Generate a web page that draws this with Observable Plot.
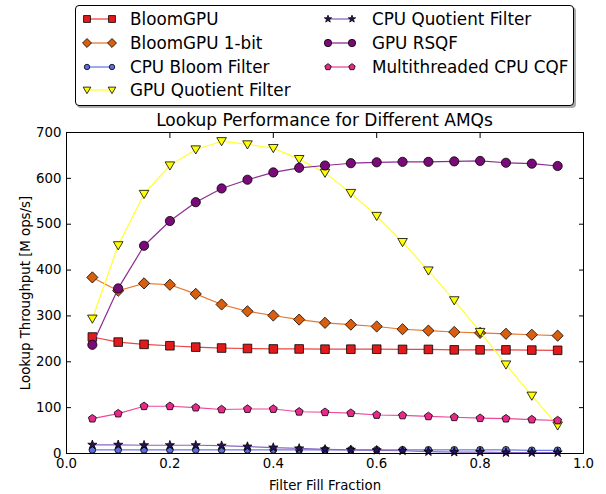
<!DOCTYPE html>
<html><head><meta charset="utf-8">
<script src="https://cdn.jsdelivr.net/npm/d3@7"></script>
<script src="https://cdn.jsdelivr.net/npm/@observablehq/plot@0.6"></script>
<style>
body{margin:0;background:#fff;}
#wrap{position:relative;width:606px;height:494px;font-family:"DejaVu Sans",sans-serif;overflow:hidden;}
#chart{position:absolute;left:0;top:0;}
#title{position:absolute;left:66px;width:517px;top:111px;text-align:center;font-size:17px;line-height:19px;color:#000;}
#legend{position:absolute;left:75px;top:5px;width:497px;height:99px;border:1px solid #000;border-radius:4px;box-shadow:2px 2px 0 #aaa;background:#fff;}
.item{position:absolute;font-size:16.8px;display:flex;align-items:center;height:20px;line-height:20px;color:#000;white-space:nowrap;}
.item svg{flex:none;}
</style></head>
<body>
<div id="wrap">
  <div id="chart"></div>
  <div id="title">Lookup Performance for Different AMQs</div>
  <div id="legend"></div>
</div>
<script>
const fillFraction = [0.05,0.10,0.15,0.20,0.25,0.30,0.35,0.40,0.45,0.50,0.55,0.60,0.65,0.70,0.75,0.80,0.85,0.90,0.95];
const bloomGPU      = [254,243,238,235,232,230,229,228,228,227.5,227.5,227.5,227,227,226,226,226,225.5,225];
const bloomGPU1bit  = [384,355,371,368,348,325,310,301,292,285,281,277,271,268,265,263,261,259,257];
const cpuBloom      = [8,8,8,8,8,8,8,8,8,8,8,8,8,8,8,8,8,7,7];
const gpuQF         = [294,454,566,628,663,681,674,666,642,612,568,518,461,399,334,265,194,126,61];
const cpuQF         = [19,19,18,18,18,17,15,13,11,9,8,7,6,4,3,3,2,2,2];
const gpuRSQF       = [237,360,453,507,548,578,597,613,623,628,633,635,636,636,637,638,634,632,627];
const cqf           = [76,87,103,103,100,96,97,97,91,90,88,84,83,81,79,77,76,74,72];

const seriesNames  = ["BloomGPU","BloomGPU 1-bit","CPU Bloom Filter","GPU Quotient Filter","CPU Quotient Filter","GPU RSQF","Multithreaded CPU CQF"];
const seriesValues = [bloomGPU,bloomGPU1bit,cpuBloom,gpuQF,cpuQF,gpuRSQF,cqf];
const xTicks = [0,0.2,0.4,0.6,0.8,1.0];
const yTicks = [0,100,200,300,400,500,600,700];

const fillColors = ["#e31a1c","#d95f0e","#5b6ee0","#ffff00","#2a0f5a","#7a0a78","#e7298a"];
const lineColors = ["#ee4444","#e47a30","#6a7ae8","#ffff33","#8b68c0","#8c2c92","#ea4a9a"];

const R = s => Math.sqrt(s / Math.PI);
const symSquare = {draw(c,s){const r=R(s); c.rect(-r,-r,2*r,2*r);}};
const symDiamond = {draw(c,s){const r=R(s); c.moveTo(0,-r); c.lineTo(r,0); c.lineTo(0,r); c.lineTo(-r,0); c.closePath();}};
const symCircle = {draw(c,s){const r=R(s); c.moveTo(r,0); c.arc(0,0,r,0,2*Math.PI);}};
const symTriDown = {draw(c,s){const r=R(s); c.moveTo(-r,-r*0.75); c.lineTo(r,-r*0.75); c.lineTo(0,r*0.95); c.closePath();}};
const symStar = {draw(c,s){const r=R(s); for(let k=0;k<10;k++){const a=-Math.PI/2+k*Math.PI/5; const rr=k%2?r*0.4:r; const x=rr*Math.cos(a), y=rr*Math.sin(a); k?c.lineTo(x,y):c.moveTo(x,y);} c.closePath();}};
const symPent = {draw(c,s){const r=R(s); for(let k=0;k<5;k++){const a=-Math.PI/2+k*2*Math.PI/5; const x=r*Math.cos(a), y=r*Math.sin(a); k?c.lineTo(x,y):c.moveTo(x,y);} c.closePath();}};
const symbols = [symSquare,symDiamond,symCircle,symTriDown,symStar,symCircle,symPent];
const radii = [4.3,5.6,3.4,4.8,4.8,4.6,4.2];

const marks = [
  Plot.axisX({ticks:xTicks, tickSize:0, tickPadding:5, tickFormat:d3.format(".1f"), label:"Filter Fill Fraction", labelAnchor:"center", labelArrow:"none", labelOffset:36}),
  Plot.axisX({ticks:xTicks, tickSize:-5, tickFormat:()=>"", label:null}),
  Plot.axisX({anchor:"top", ticks:xTicks, tickSize:-5, tickFormat:()=>"", label:null}),
  Plot.axisY({ticks:yTicks, tickSize:0, tickPadding:5, label:"Lookup Throughput [M ops/s]", labelAnchor:"center", labelArrow:"none", labelOffset:46}),
  Plot.axisY({ticks:yTicks, tickSize:-5, tickFormat:()=>"", label:null}),
  Plot.axisY({anchor:"right", ticks:yTicks, tickSize:-5, tickFormat:()=>"", label:null})
];
seriesNames.forEach((name,i)=>{
  const data = fillFraction.map((x,j)=>({x, y:seriesValues[i][j], series:name}));
  marks.push(Plot.line(data,{x:"x", y:"y", stroke:lineColors[i], strokeWidth:1.2}));
  marks.push(Plot.dot(data,{x:"x", y:"y", symbol:symbols[i], r:radii[i], fill:fillColors[i], stroke:"#000", strokeWidth:0.8}));
});
marks.push(Plot.frame({stroke:"#000", strokeWidth:1}));

const chart = Plot.plot({
  width:606, height:494,
  marginLeft:66, marginRight:23, marginTop:132, marginBottom:41,
  x:{domain:[0,1]}, y:{domain:[0,700]},
  style:{fontFamily:"DejaVu Sans, sans-serif", fontSize:"13.3px", color:"#000", background:"#fff", overflow:"visible"},
  marks
});
document.getElementById("chart").appendChild(chart);

// legend
const legend = document.getElementById("legend");
const pos = [
  {left:4, top:3},{left:4, top:27},{left:4, top:51},{left:4, top:74},
  {left:245, top:3},{left:245, top:27},{left:245, top:51}
];
seriesNames.forEach((name,i)=>{
  const it = document.createElement("div");
  it.className = "item";
  it.style.left = pos[i].left + "px";
  it.style.top = pos[i].top + "px";
  const sw = i < 4 ? 50 : 51;
  const m2 = i < 4 ? 32 : 31;
  const r = radii[i]*0.8;
  const size = Math.PI*r*r;
  const p1 = d3.path(); symbols[i].draw(p1,size);
  const d = p1.toString();
  it.innerHTML = `<svg width="${sw}" height="20"><line x1="7" x2="${m2}" y1="10" y2="10" stroke="${lineColors[i]}" stroke-width="1.3"/>`+
    `<path d="${d}" transform="translate(7,10)" fill="${fillColors[i]}" stroke="#000" stroke-width="0.8"/>`+
    `<path d="${d}" transform="translate(${m2},10)" fill="${fillColors[i]}" stroke="#000" stroke-width="0.8"/></svg><span>${name}</span>`;
  legend.appendChild(it);
});
</script>
</body></html>
